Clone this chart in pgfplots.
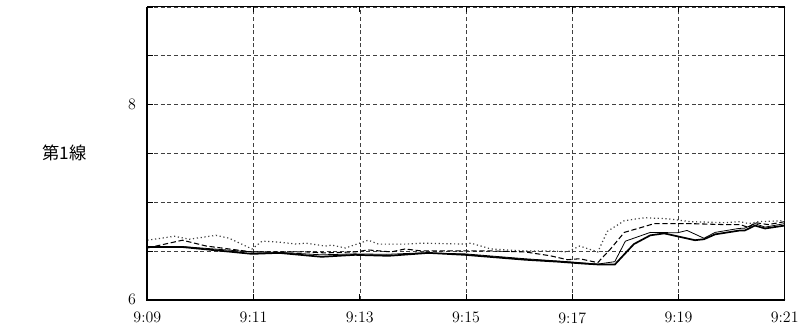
\documentclass[border=0pt]{standalone}
\usepackage{pgfplots}
\pgfplotsset{compat=1.18}
\usepackage{fontspec}
\newfontfamily\cjk{Noto Sans CJK JP}
\begin{document}
\begin{tikzpicture}[x=0.75pt,y=0.75pt]
\begin{axis}[
  name=ax,
  scale only axis,
  width=480pt, height=220.5pt,
  xmin=0, xmax=12, ymin=6, ymax=9,
  xtick={0,2,...,12},
  xticklabels={9:09,9:11,9:13,9:15,9:17,9:19,9:21},
  ytick={6,6.5,7,7.5,8,8.5,9},
  yticklabels={6,,,,8,,},
  tick align=inside,
  major tick length=4pt,
  tick style={black, line width=0.6pt},
  grid=major,
  grid style={dash pattern=on 3pt off 2pt, black!75, line width=0.45pt},
  axis line style={line width=0.8pt},
  ticklabel style={font=\fontsize{12}{14}\selectfont},
  yticklabel style={xshift=-5pt},
  xticklabel style={yshift=-6pt},
  ylabel={\cjk\fontsize{13}{15}\selectfont 第1線},
  ylabel style={rotate=-90, at={(axis description cs:-0.13,0.5)}, anchor=center},
  clip=false,
  after end axis/.code={
    \draw[line width=1.6pt] (rel axis cs:0,1) -- (rel axis cs:0,0) -- (rel axis cs:1,0);
  },
]
% dotted
\addplot[black!75, dotted, line width=0.9pt] coordinates {
(0,6.61)(0.51,6.65)(0.79,6.62)(1.29,6.66)(1.54,6.63)(1.97,6.52)(2.16,6.60)(2.48,6.59)
(2.81,6.57)(2.98,6.58)(3.35,6.55)(3.47,6.56)(3.73,6.53)(4.16,6.61)(4.35,6.57)(4.85,6.57)
(5.16,6.58)(5.98,6.57)(6.09,6.58)(6.47,6.52)(7.11,6.50)(7.59,6.50)(7.91,6.49)(8.14,6.55)
(8.48,6.49)(8.66,6.70)(8.98,6.81)(9.36,6.84)(9.79,6.83)(10.22,6.80)(10.86,6.79)(11.16,6.80)
(11.32,6.78)(11.51,6.80)(12,6.81)};
% dashed
\addplot[black, dash pattern=on 4pt off 2pt, line width=0.8pt] coordinates {
(0,6.53)(0.66,6.61)(1.11,6.55)(1.97,6.49)(2.98,6.49)(3.35,6.48)(3.91,6.49)(4.16,6.51)
(4.59,6.49)(4.85,6.52)(5.16,6.50)(5.98,6.50)(6.47,6.50)(7.11,6.49)(7.59,6.45)(7.91,6.41)
(8.14,6.42)(8.48,6.38)(8.72,6.52)(8.98,6.69)(9.36,6.75)(9.54,6.78)(10.22,6.78)(10.86,6.77)
(11.16,6.77)(11.32,6.74)(11.44,6.79)(11.69,6.77)(12,6.80)};
% thin solid
\addplot[black, line width=0.6pt] coordinates {
(0,6.54)(0.66,6.545)(1.97,6.49)(2.5,6.485)(3.28,6.46)(3.9,6.47)(4.5,6.465)(5.16,6.48)
(5.98,6.47)(7.11,6.42)(7.91,6.39)(8.48,6.365)(8.8,6.39)(9.0,6.60)(9.47,6.69)(9.98,6.686)
(10.16,6.71)(10.48,6.63)(10.69,6.69)(11.13,6.73)(11.25,6.734)(11.44,6.78)(11.63,6.744)(12,6.78)};
% thick solid
\addplot[black, line width=1.3pt] coordinates {
(0,6.54)(0.66,6.54)(1.97,6.47)(2.48,6.48)(3.28,6.44)(3.91,6.46)(4.54,6.45)(5.29,6.48)
(5.98,6.46)(7.11,6.41)(7.73,6.39)(8.23,6.37)(8.53,6.36)(8.8,6.36)(9.16,6.57)(9.47,6.66)
(9.73,6.68)(9.98,6.65)(10.31,6.61)(10.48,6.62)(10.69,6.67)(11.16,6.71)(11.25,6.71)
(11.44,6.76)(11.63,6.73)(12,6.76)};
\end{axis}
\path (ax.south west)+(-148,-33) coordinate (bbA);
\path (ax.north east)+(15,7) coordinate (bbB);
\path (bbA) rectangle (bbB);
\end{tikzpicture}
\end{document}
